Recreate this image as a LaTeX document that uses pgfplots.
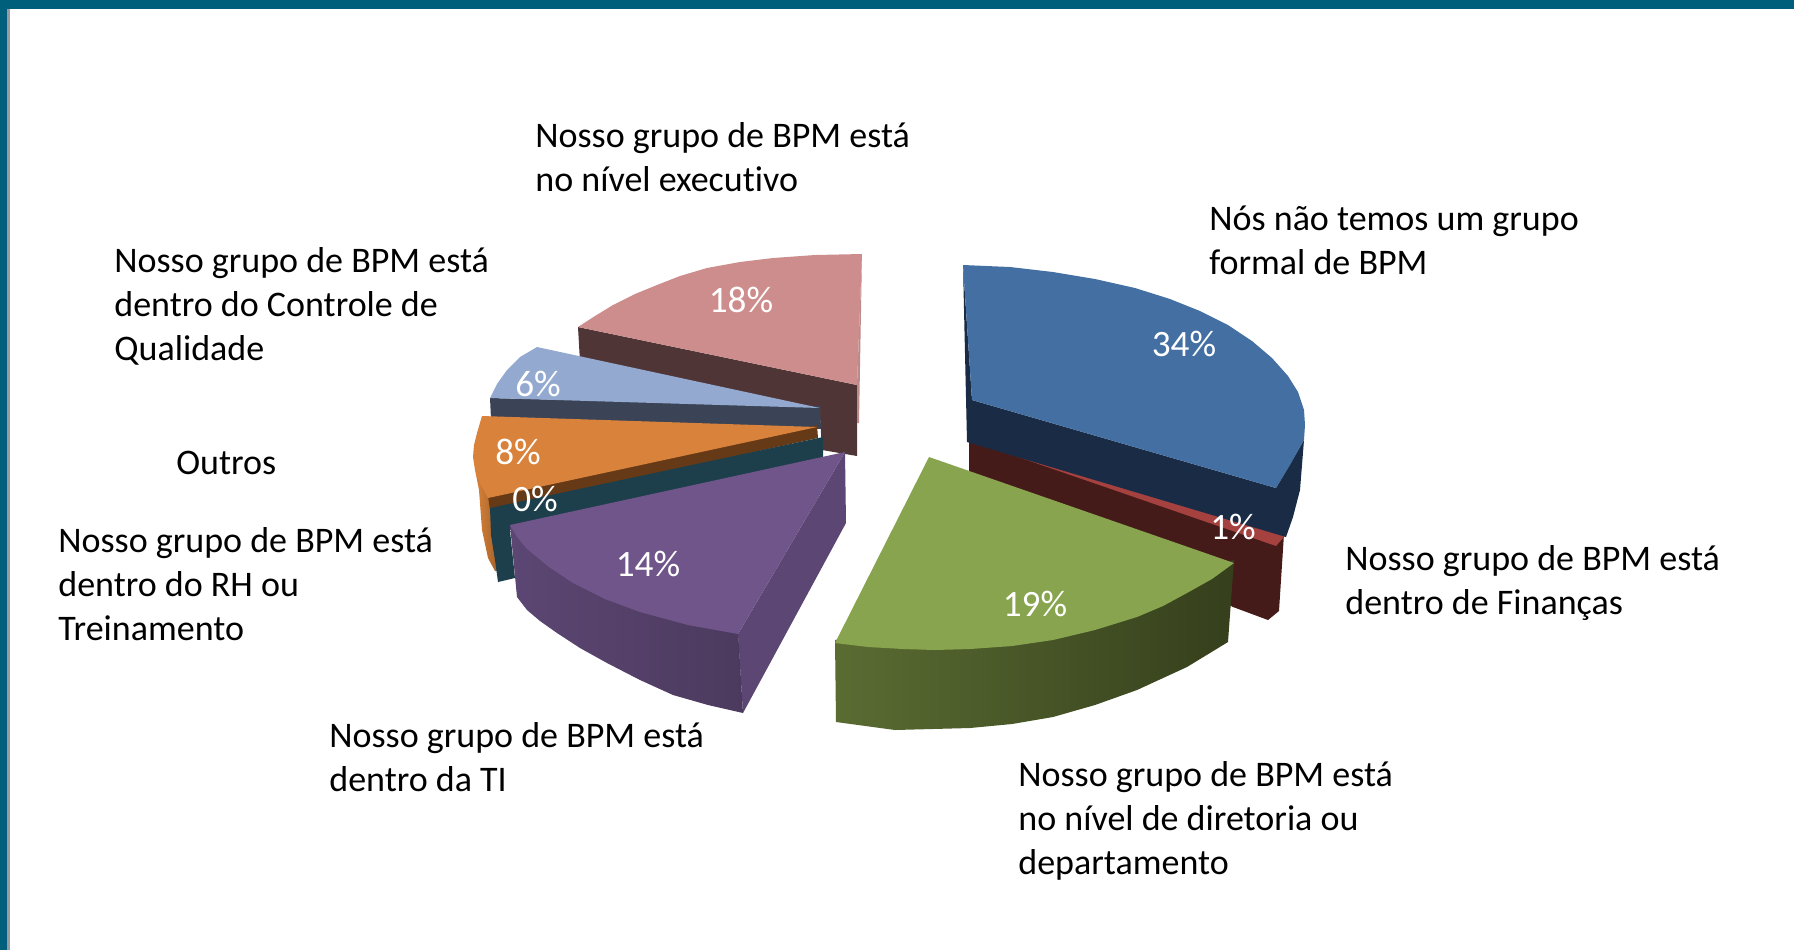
\documentclass[border=0pt]{standalone}
\usepackage{pgfplots}
\pgfplotsset{compat=1.18}
\usepackage{fontspec}
\setmainfont[Ligatures=NoCommon]{Carlito}
\definecolor{frame}{HTML}{005F7A}
\definecolor{frameg}{HTML}{9A9AA2}
\definecolor{pinkT}{HTML}{CD8D8C}
\definecolor{pinkS}{HTML}{503537}
\definecolor{pinkE}{HTML}{BC8A8A}
\definecolor{lbT}{HTML}{93A9CF}
\definecolor{lbS}{HTML}{3A4456}
\definecolor{orT}{HTML}{D9823B}
\definecolor{orS}{HTML}{663A17}
\definecolor{orE}{HTML}{C87830}
\definecolor{tlS}{HTML}{1D3F4C}
\definecolor{puT}{HTML}{70558A}
\definecolor{puS}{HTML}{5C4673}
\definecolor{puD}{HTML}{4C3A5E}
\definecolor{grT}{HTML}{88A44E}
\definecolor{grL}{HTML}{5A6C32}
\definecolor{grM}{HTML}{3D4821}
\definecolor{grD}{HTML}{353F1C}
\definecolor{blT}{HTML}{436FA3}
\definecolor{blS}{HTML}{1A2C45}
\definecolor{reT}{HTML}{A5413F}
\definecolor{reS}{HTML}{451B1A}
\tikzset{
  lab/.style={anchor=north west, align=left, inner sep=0pt, font=\fontsize{18.0}{22}\selectfont, text=black},
  pct/.style={anchor=center, inner sep=0pt, font=\fontsize{18.6}{22}\selectfont, text=white},
}
\begin{document}
\begin{tikzpicture}
\begin{axis}[
  scale only axis, width=897pt, height=475pt,
  xmin=0, xmax=1794, ymin=0, ymax=950, y dir=reverse,
  hide axis, no markers, clip=true,
  every axis plot/.append style={draw=none, forget plot},
]
% frame
\addplot[fill=frame] coordinates {(0,0)(1794,0)(1794,9)(0,9)};
\addplot[fill=frame] coordinates {(0,0)(7,0)(7,950)(0,950)};
\addplot[fill=frameg] coordinates {(7,9)(10,9)(10,950)(7,950)};
% 18% slice
\addplot[fill=pinkS] coordinates {(578,327)(857,385)(857,456)(822,450)(820,416)(580,362)};
\addplot[fill=pinkE] coordinates {(862,254)(857,385)(857,423)(859,423)};
\addplot[fill=pinkT] coordinates {(862,254)(815,255)(773,258)(740,262)(707,268)(680,276)(657,285)(635,294)(613,305)(595,316)(578,327)(857,385)};
% 6% slice
\addplot[fill=lbS] coordinates {(490,398)(820,406)(821,429)(491,419)};
\addplot[fill=lbT] coordinates {(537,347)(520,357)(507,370)(497,384)(490,398)(820,408)};
% 8% slice
\addplot[left color=orT, right color=orE!80!black] coordinates {(475,470)(479,490)(482,530)(488,558)(495,571)(500,571)(500,495)};
\addplot[fill=orS] coordinates {(488,496)(817,425)(818,438)(490,510)};
\addplot[fill=orT] coordinates {(482,416)(817,427)(488,498)(481,485)(475,470)(473,457)(474,445)(477,433)};
% 0% slice
\addplot[fill=tlS] coordinates {(490,508)(823,437)(823,458)(510,530)(515,578)(498,582)(495,560)(491,535)};
% 14% slice
\addplot[fill=puS] coordinates {(845,452)(846,523)(743,713)(738,634)};
\addplot[left color=puS, right color=puD] coordinates {(510,525)(738,630)(743,713)(708,705)(673,695)(640,680)(607,663)(580,648)(557,633)(540,621)(527,610)(517,597)};
\addplot[fill=puT] coordinates {(845,452)(510,525)(517,537)(527,549)(549,567)(573,583)(605,599)(640,612)(688,625)(738,634)};
% 1% slice
\addplot[fill=reS] coordinates {(969,440)(1284,534)(1279,611)(1268,620)(1233,607)(969,472)};
\addplot[fill=reT] coordinates {(969,440)(1287,534)(1284,537)(1276,546)};
% 34% slice
\addplot[fill=blS] coordinates {(963,265)(972,400)(1276,488)(1304,440)(1300,490)(1293,517)(1286,537)(967,442)};
\addplot[fill=blT] coordinates {(963,265)(1010,267)(1053,272)(1095,279)(1135,288)(1170,299)(1200,311)(1228,325)(1252,341)(1272,358)(1288,376)(1298,392)(1304,410)(1305,425)(1304,440)(1290,465)(1276,488)(972,400)};
% 19% slice
\addplot[left color=grL, middle color=grM, right color=grD] coordinates {(835,640)(1234,560)(1228,642)(1187,667)(1137,690)(1095,705)(1053,717)(1012,724)(970,728)(895,730)(836,722)};
\addplot[fill=grT] coordinates {(929,457)(1234,563)(1212,579)(1187,593)(1163,606)(1137,617)(1095,630)(1053,640)(1012,646)(970,649)(935,650)(903,649)(868,647)(835,643)};
% percent labels
\node[pct] at (axis cs:741,300) {18\%};
\node[pct] at (axis cs:1184,344) {34\%};
\node[pct] at (axis cs:538,384) {6\%};
\node[pct] at (axis cs:518,452) {8\%};
\node[pct] at (axis cs:535,499) {0\%};
\node[pct] at (axis cs:648,564) {14\%};
\node[pct] at (axis cs:1035,604) {19\%};
\node[pct] at (axis cs:1233,527) {1\%};
% category labels
\node[lab] at (axis cs:535,122) {Nosso grupo de BPM está\\no nível executivo};
\node[lab] at (axis cs:1209,205) {Nós não temos um grupo\\formal de BPM};
\node[lab] at (axis cs:114,247) {Nosso grupo de BPM está\\dentro do Controle de\\Qualidade};
\node[lab] at (axis cs:176,451) {Outros};
\node[lab] at (axis cs:58,527) {Nosso grupo de BPM está\\dentro do RH ou\\Treinamento};
\node[lab] at (axis cs:329,722) {Nosso grupo de BPM está\\dentro da TI};
\node[lab] at (axis cs:1018,761) {Nosso grupo de BPM está\\no nível de diretoria ou\\departamento};
\node[lab] at (axis cs:1345,545) {Nosso grupo de BPM está\\dentro de Finanças};
\end{axis}
\end{tikzpicture}
\end{document}
